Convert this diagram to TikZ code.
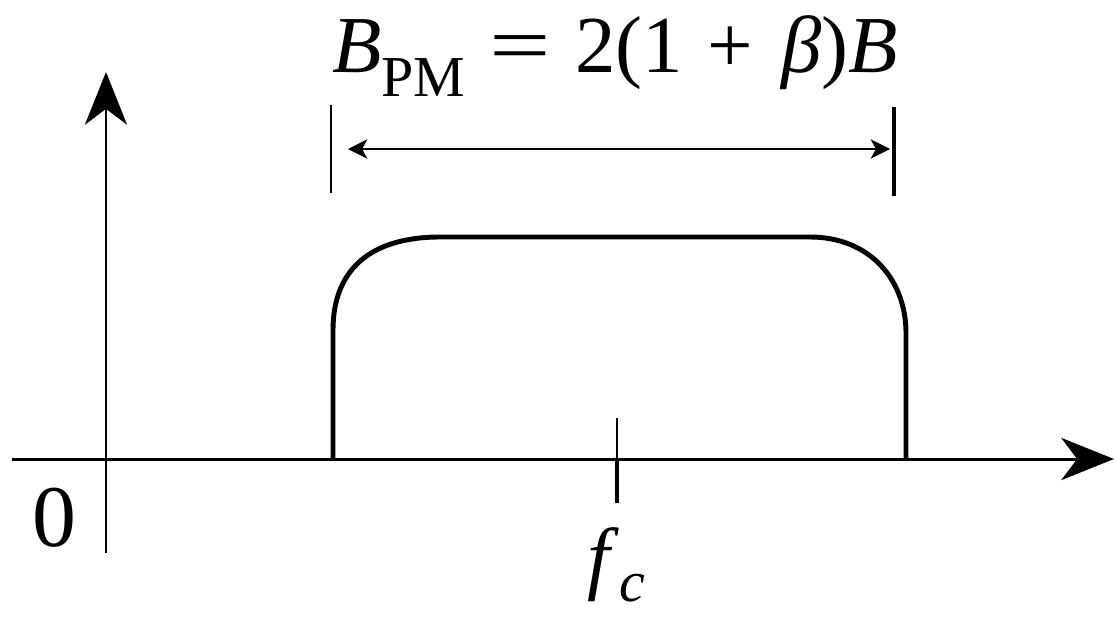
\documentclass[tikz,border=0pt]{standalone}
\usepackage{fontspec}
\setmainfont{Liberation Serif}
\usetikzlibrary{arrows.meta}

\begin{document}
\begin{tikzpicture}[
    x=0.02cm, y=-0.02cm,
    axis/.style={line width=1.7pt, -{Stealth[length=30pt, width=24pt, inset=9pt]}},
    spec/.style={line width=2.8pt, line join=round},
    bar/.style={line width=1.5pt},
    bw/.style={line width=0.9pt, {Stealth[length=11pt, width=11pt, inset=3pt]}-{Stealth[length=11pt, width=11pt, inset=3pt]}},
    lbl/.style={font=\fontsize{46}{50}\selectfont, inner sep=0pt}
  ]
  \useasboundingbox (0,0) rectangle (1115,616);
  % axes
  \coordinate (xs) at (12,459);
  \coordinate (xe) at (1114,459);
  \coordinate (ys) at (106,553);
  \coordinate (ye) at (106,72);
  \draw[axis] (xs) -- (xe);
  \draw[axis, line width=1.3pt] (ys) -- (ye);
  % spectrum
  \coordinate (sl0) at (333,459);
  \coordinate (sl1) at (333,330);
  \coordinate (st0) at (440,237);
  \coordinate (st1) at (810,237);
  \coordinate (sr1) at (906,333);
  \coordinate (sr0) at (906,459);
  \draw[spec] (sl0) -- (sl1) .. controls (333,270) and (370,237) .. (st0)
    -- (st1) .. controls (870,237) and (906,280) .. (sr1) -- (sr0);
  % carrier tick
  \coordinate (tk0) at (617,418);
  \coordinate (tk1) at (617,459);
  \coordinate (tk2) at (617,503);
  \draw[line width=0.8pt] (tk0) -- (tk1);
  \draw[line width=2.4pt] (tk1) -- (tk2);
  % bandwidth
  \coordinate (bl0) at (331,105);
  \coordinate (bl1) at (331,193);
  \coordinate (br0) at (894,107);
  \coordinate (br1) at (894,196);
  \coordinate (bla) at (331,149);
  \coordinate (bra) at (894,149);
  \draw[bar] (bl0) -- (bl1);
  \draw[bar, line width=2.2pt] (br0) -- (br1);
  \draw[bw, shorten <=0.34cm, shorten >=0.08cm] (bla) -- (bra);
  % labels
  \node[lbl, anchor=base west] (bpm) at (332,72)
    {\textit{B}\raisebox{-14pt}{\fontsize{33}{35}\selectfont PM}\hspace{0.3em}\scalebox{1.35}[1]{=}\hspace{0.3em}2(1\hspace{0.3em}+\hspace{0.35em}\textit{β})\textit{B}};
  \node[lbl, font=\fontsize{50}{54}\selectfont, anchor=base] (zero) at (54,546) {0};
  \node[lbl, font=\fontsize{46}{50}\selectfont, anchor=base west] (fc) at (587,584)
    {\textit{f}\raisebox{-10pt}{\fontsize{33}{35}\selectfont\textit{c}}};
\end{tikzpicture}
\end{document}
